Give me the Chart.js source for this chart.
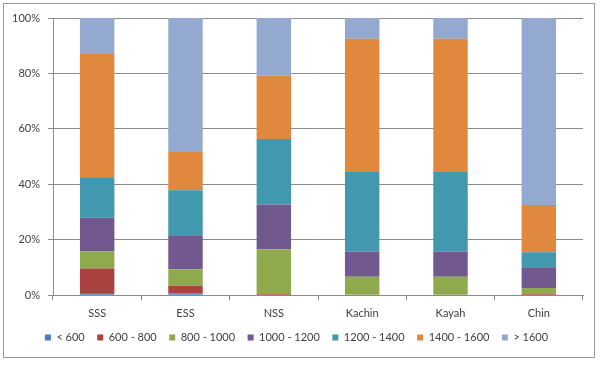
<!DOCTYPE html>
<html>
<head>
<meta charset="utf-8">
<script src="https://cdn.jsdelivr.net/npm/chart.js@4"></script>
<style>
  html, body { margin: 0; padding: 0; background: #fff; }
  #wrap { position: relative; width: 600px; height: 365px; }
  #frame { position: absolute; left: 3px; top: 3px; width: 590px; height: 353px; border: 1px solid #9a9a9a; pointer-events: none; }
  canvas { position: absolute; left: 0; top: 0; }
</style>
</head>
<body>
<div id="wrap">
  <canvas id="chart" width="600" height="365"></canvas>
  <div id="frame"></div>
</div>
<script>
const regions = ['SSS', 'ESS', 'NSS', 'Kachin', 'Kayah', 'Chin'];

const below600   = [0.8, 0.7, 0.0, 0.0, 0.0, 0.0];
const r600_800   = [8.9, 2.7, 0.5, 0.0, 0.0, 0.5];
const r800_1000  = [6.1, 6.0, 16.1, 6.7, 6.7, 2.1];
const r1000_1200 = [12.2, 12.3, 16.1, 9.1, 9.1, 7.5];
const r1200_1400 = [14.6, 16.2, 23.7, 28.7, 28.7, 5.4];
const r1400_1600 = [44.4, 13.8, 22.8, 48.0, 48.0, 17.1];
const above1600  = [13.0, 48.3, 20.8, 7.5, 7.5, 67.4];

const seriesNames = ['< 600', '600 - 800', '800 - 1000', '1000 - 1200', '1200 - 1400', '1400 - 1600', '> 1600'];
const seriesValues = [below600, r600_800, r800_1000, r1000_1200, r1200_1400, r1400_1600, above1600];
const seriesColors = ['#4a7ebb', '#aa4340', '#8eaa4c', '#71588f', '#4298af', '#e0893e', '#93a9cf'];

const textColor = '#404040';
const fontFamily = 'Lato, "Open Sans", sans-serif';

// legend sits a little right of the plot centre, like the original
const shiftLegend = {
    id: 'shiftLegend',
    afterLayout(chart) {
        chart.legend.left += 5;
        chart.legend.right += 5;
    }
};

new Chart(document.getElementById('chart'), {
    type: 'bar',
    data: {
        labels: regions,
        datasets: seriesNames.map((name, i) => ({
            label: name,
            data: seriesValues[i],
            backgroundColor: seriesColors[i],
            borderWidth: 0,
            categoryPercentage: 1,
            barPercentage: 0.39
        }))
    },
    plugins: [shiftLegend],
    options: {
        responsive: false,
        animation: false,
        layout: { padding: { left: 0, right: 17, top: 18, bottom: 12 } },
        plugins: {
            tooltip: { enabled: false },
            legend: {
                position: 'bottom',
                labels: {
                    boxWidth: 6,
                    boxHeight: 6,
                    padding: 12.5,
                    color: textColor,
                    font: { family: fontFamily, size: 11 }
                }
            }
        },
        scales: {
            x: {
                stacked: true,
                afterFit: scale => { scale.height -= 8; },
                grid: { offset: true, drawOnChartArea: false, drawTicks: true, tickLength: 5, color: '#8c8c8c' },
                border: { color: '#8c8c8c' },
                ticks: { color: textColor, font: { family: fontFamily, size: 11 }, padding: 7 }
            },
            y: {
                stacked: true,
                min: 0,
                max: 100,
                afterFit: scale => { scale.width = 53; },
                grid: { color: '#8c8c8c', tickLength: 5 },
                border: { color: '#8c8c8c' },
                ticks: {
                    stepSize: 20,
                    padding: 8,
                    color: textColor,
                    font: { family: fontFamily, size: 11 },
                    callback: v => v + '%'
                }
            }
        }
    }
});
</script>
</body>
</html>
